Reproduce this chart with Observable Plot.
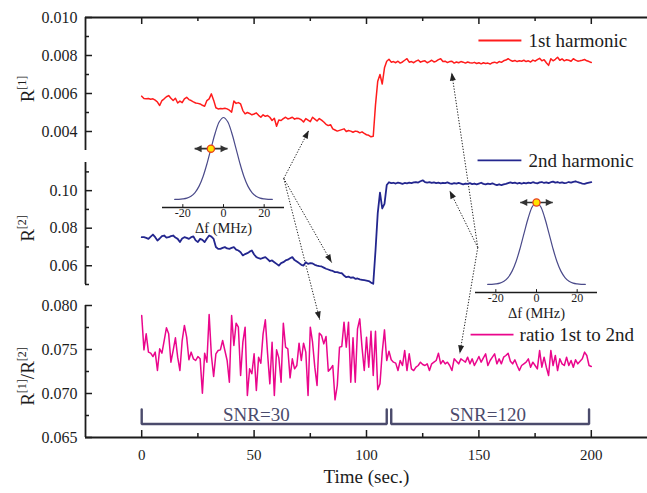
<!DOCTYPE html>
<html><head><meta charset="utf-8">
<script src="https://cdn.jsdelivr.net/npm/d3@7"></script>
<script src="https://cdn.jsdelivr.net/npm/@observablehq/plot@0.6"></script>
<style>
html,body{margin:0;padding:0;background:#fff}
#chart{position:relative;width:647px;height:493px;overflow:hidden;font-family:"Liberation Serif","DejaVu Serif",serif}
#chart svg{position:absolute;background:transparent}
#chart svg text, #chart svg tspan{font-family:"Liberation Serif","DejaVu Serif",serif !important}
</style></head>
<body><div id="chart"></div>
<script>
// ---------------- data (one sample per second, t = 0 .. 200 s) ----------------
const r1 = [ // R[1], 1st harmonic
0.00586,0.00574,0.00572,0.00574,0.00570,0.00572,0.00565,0.00555,0.00537,0.00563,
0.00572,0.00583,0.00589,0.00575,0.00563,0.00575,0.00550,0.00560,0.00552,0.00572,
0.00580,0.00568,0.00563,0.00556,0.00550,0.00548,0.00545,0.00538,0.00533,0.00563,
0.00572,0.00598,0.00565,0.00525,0.00519,0.00521,0.00520,0.00522,0.00519,0.00512,
0.00502,0.00560,0.00548,0.00552,0.00545,0.00510,0.00493,0.00500,0.00495,0.00488,
0.00492,0.00498,0.00485,0.00475,0.00488,0.00480,0.00484,0.00475,0.00458,0.00470,
0.00428,0.00460,0.00458,0.00468,0.00475,0.00466,0.00470,0.00475,0.00465,0.00470,
0.00468,0.00462,0.00450,0.00468,0.00460,0.00452,0.00475,0.00465,0.00455,0.00468,
0.00460,0.00450,0.00438,0.00431,0.00436,0.00414,0.00408,0.00402,0.00406,0.00410,
0.00414,0.00400,0.00405,0.00402,0.00396,0.00402,0.00400,0.00393,0.00398,0.00390,
0.00383,0.00380,0.00372,0.00375,0.00540,0.00665,0.00700,0.00650,0.00735,0.00770,
0.00780,0.00765,0.00768,0.00762,0.00770,0.00760,0.00766,0.00775,0.00783,0.00765,
0.00768,0.00762,0.00770,0.00776,0.00765,0.00770,0.00772,0.00762,0.00768,0.00775,
0.00766,0.00770,0.00778,0.00783,0.00768,0.00770,0.00763,0.00768,0.00770,0.00760,
0.00766,0.00762,0.00768,0.00765,0.00760,0.00766,0.00762,0.00760,0.00764,0.00758,
0.00762,0.00756,0.00762,0.00758,0.00760,0.00755,0.00762,0.00765,0.00760,0.00768,
0.00764,0.00772,0.00776,0.00783,0.00775,0.00770,0.00774,0.00768,0.00772,0.00770,
0.00775,0.00768,0.00772,0.00766,0.00776,0.00770,0.00778,0.00785,0.00772,0.00778,
0.00762,0.00748,0.00783,0.00772,0.00780,0.00791,0.00775,0.00782,0.00772,0.00778,
0.00775,0.00770,0.00783,0.00776,0.00770,0.00772,0.00775,0.00779,0.00772,0.00768,
0.00763];
const r2 = [ // R[2], 2nd harmonic
0.0752,0.0752,0.0748,0.0743,0.0755,0.0766,0.0752,0.0734,0.0745,0.0758,
0.0761,0.0750,0.0752,0.0758,0.0761,0.0750,0.0743,0.0726,0.0745,0.0752,
0.0748,0.0743,0.0752,0.0756,0.0735,0.0726,0.0743,0.0738,0.0726,0.0745,
0.0761,0.0755,0.0743,0.0700,0.0690,0.0690,0.0695,0.0699,0.0692,0.0690,
0.0695,0.0699,0.0686,0.0681,0.0672,0.0655,0.0662,0.0667,0.0675,0.0681,
0.0660,0.0646,0.0640,0.0637,0.0642,0.0646,0.0635,0.0624,0.0628,0.0619,
0.0610,0.0601,0.0614,0.0619,0.0628,0.0632,0.0640,0.0646,0.0630,0.0622,
0.0614,0.0605,0.0601,0.0619,0.0610,0.0614,0.0612,0.0605,0.0601,0.0598,
0.0596,0.0590,0.0584,0.0580,0.0575,0.0572,0.0566,0.0566,0.0562,0.0560,
0.0548,0.0539,0.0542,0.0536,0.0538,0.0530,0.0532,0.0527,0.0525,0.0523,
0.0521,0.0518,0.0510,0.0504,0.0680,0.0880,0.0990,0.0905,0.0930,0.1030,
0.1045,0.1040,0.1042,0.1038,0.1043,0.1040,0.1036,0.1041,0.1039,0.1043,
0.1040,0.1044,0.1046,0.1043,0.1050,0.1055,0.1046,0.1043,0.1045,0.1041,
0.1044,0.1040,0.1043,0.1039,0.1042,0.1040,0.1044,0.1039,0.1036,0.1040,
0.1037,0.1041,0.1038,0.1034,0.1038,0.1036,0.1040,0.1035,0.1038,0.1034,
0.1038,0.1042,0.1036,0.1033,0.1037,0.1035,0.1039,0.1034,0.1030,0.1034,
0.1029,0.1033,0.1036,0.1040,0.1044,0.1040,0.1043,0.1038,0.1041,0.1037,
0.1042,0.1039,0.1043,0.1040,0.1045,0.1041,0.1039,0.1044,0.1046,0.1041,
0.1044,0.1040,0.1045,0.1048,0.1043,0.1046,0.1041,0.1044,0.1040,0.1042,
0.1046,0.1043,0.1047,0.1050,0.1045,0.1042,0.1038,0.1036,0.1040,0.1043,
0.1045];
const ratio = [ // R[1]/R[2]
0.07886,0.07496,0.07678,0.07470,0.07458,0.07420,0.07470,0.07261,0.07508,0.07458,
0.07602,0.07746,0.07678,0.07356,0.07489,0.07633,0.07413,0.07261,0.07602,0.07773,
0.07640,0.07383,0.07470,0.07394,0.07375,0.07420,0.07394,0.07004,0.07458,0.07356,
0.07898,0.07432,0.07193,0.07451,0.07489,0.07496,0.07602,0.07489,0.07375,0.07129,
0.07886,0.07545,0.07799,0.07754,0.07205,0.07583,0.07754,0.06977,0.07280,0.07224,
0.07451,0.07034,0.07413,0.07345,0.07678,0.07837,0.07451,0.07110,0.07583,0.06977,
0.07496,0.07405,0.07129,0.07799,0.07527,0.07508,0.07178,0.07394,0.07280,0.07318,
0.07572,0.07375,0.07572,0.07470,0.06977,0.07754,0.07583,0.07299,0.07091,0.07686,
0.07659,0.07564,0.07648,0.07254,0.07280,0.07318,0.06928,0.07091,0.07527,0.07534,
0.07811,0.07527,0.07811,0.07129,0.07633,0.07129,0.07735,0.07848,0.07527,0.07261,
0.07640,0.07299,0.07708,0.07205,0.07708,0.07042,0.07110,0.07470,0.07723,0.07375,
0.07481,0.07383,0.07356,0.07345,0.07261,0.07375,0.07318,0.07489,0.07261,0.07451,
0.07280,0.07261,0.07299,0.07318,0.07356,0.07330,0.07318,0.07337,0.07261,0.07337,
0.07356,0.07375,0.07458,0.07337,0.07375,0.07337,0.07356,0.07318,0.07261,0.07394,
0.07367,0.07337,0.07394,0.07375,0.07356,0.07413,0.07337,0.07394,0.07318,0.07367,
0.07420,0.07356,0.07405,0.07451,0.07318,0.07375,0.07413,0.07451,0.07337,0.07394,
0.07337,0.07413,0.07432,0.07458,0.07367,0.07337,0.07383,0.07318,0.07261,0.07318,
0.07337,0.07356,0.07394,0.07299,0.07356,0.07318,0.07280,0.07489,0.07299,0.07413,
0.07299,0.07205,0.07489,0.07318,0.07432,0.07261,0.07394,0.07337,0.07318,0.07413,
0.07318,0.07375,0.07299,0.07383,0.07337,0.07367,0.07394,0.07470,0.07432,0.07318,
0.07307];

// tick values / labels
const timeTicks = [0, 50, 100, 150, 200];
const timeMinor = [25, 75, 125, 175];
const r1Ticks = [0.004, 0.006, 0.008, 0.010], r1Minor = [0.005, 0.007, 0.009];
const r2Ticks = [0.06, 0.08, 0.10], r2Minor = [0.05, 0.07, 0.09, 0.11];
const ratioTicks = [0.065, 0.070, 0.075, 0.080], ratioMinor = [0.0675, 0.0725, 0.0775];
const seriesNames = ["1st harmonic", "2nd harmonic", "ratio 1st to 2nd"];
const snrLabels = ["SNR=30", "SNR=120"];
const snrStart = [0, 111], snrEnd = [109, 199];
// inset: resonance line shape
const dfTicks = [-20, 0, 20];
const gaussDf = [-24,-22,-20,-18,-16,-14,-12,-10,-8,-6,-4,-2,0,2,4,6,8,10,12,14,16,18,20,22,24];
const gaussLevel = [0.001,0.002,0.007,0.017,0.040,0.085,0.163,0.284,0.447,0.636,0.817,0.951,1,0.951,0.817,0.636,0.447,0.284,0.163,0.085,0.040,0.017,0.007,0.002,0.001];

// ---------------- layout / style ----------------
const W = 647, H = 493, ML = 85, MR = 0, MT = 17, MB = 56;
const XD = [-25, 225];
const kx = (W - ML - MR) / (XD[1] - XD[0]); // px per second
const ink = "#1c1c1c", cRed = "#ff1c1c", cBlue = "#23268e", cPink = "#ea068c", cSnr = "#4b4b6c", cGauss = "#4a4a8a";
const FONT = "'Liberation Serif', 'DejaVu Serif', serif";
// panels: value domain and vertical band (in px below the top frame)
const P = [
  {lo: 0.003, hi: 0.010, top: 0, bottom: 133},
  {lo: 0.05, hi: 0.115, top: 145, bottom: 267},
  {lo: 0.065, hi: 0.080, top: 288, bottom: 420}
];
const ymap = (p, v) => p.top + (p.hi - v) / (p.hi - p.lo) * (p.bottom - p.top);

const yAxes = [
  {p: P[0], major: r1Ticks, minor: r1Minor, fmt: d3.format(".3f"), label: "R^[1]"},
  {p: P[1], major: r2Ticks, minor: r2Minor, fmt: d3.format(".2f"), label: "R^[2]"},
  {p: P[2], major: ratioTicks, minor: ratioMinor, fmt: d3.format(".3f"), label: "R^[1]/R^[2]"}
];
const majorY = yAxes.flatMap(a => a.major.map(v => ({y: ymap(a.p, v), label: a.fmt(v)})));
const minorY = yAxes.flatMap(a => a.minor.map(v => ({y: ymap(a.p, v)})));

const series = [
  {values: r1, p: P[0], color: cRed, w: 1.5},
  {values: r2, p: P[1], color: cBlue, w: 1.8},
  {values: ratio, p: P[2], color: cPink, w: 1.5}
];
// legend placement (time, panel value)
const legendAt = [
  {p: P[0], v: 0.00879, t1: 149.8, t2: 168.9, tt: 172.1},
  {p: P[1], v: 0.1161, t1: 149.4, t2: 168.9, tt: 172.1},
  {p: P[2], v: 0.0767, t1: 146.3, t2: 165.4, tt: 168.1}
];
const legend = legendAt.map((d, k) => ({...d, y: ymap(d.p, d.v), name: seriesNames[k], color: series[k].color}));

// SNR brackets in ratio-panel units
const brTop = 0.06818, brBottom = 0.06653, snrTextV = 0.06761, snrTextT = [51, 154];
const bracketPts = snrStart.flatMap((s, k) => [
  {k, t: s, v: brTop}, {k, t: s, v: brBottom}, {k, t: snrEnd[k], v: brBottom}, {k, t: snrEnd[k], v: brTop}
]);

// annotation arrows: from (time, panel, value) to (time, panel, value)
const notes = [
  {a: [63.2, 1, 0.1065], b: [74.3, 0, 0.00405]},
  {a: [63.2, 1, 0.1065], b: [84.5, 1, 0.0617]},
  {a: [63.2, 1, 0.1065], b: [79.2, 2, 0.0784]},
  {a: [149.5, 1, 0.0697], b: [137.9, 0, 0.0071]},
  {a: [149.5, 1, 0.0697], b: [137.0, 1, 0.1000]},
  {a: [149.5, 1, 0.0697], b: [141.5, 2, 0.07455]}
].map(n => ({x1: n.a[0], y1: ymap(P[n.a[1]], n.a[2]), x2: n.b[0], y2: ymap(P[n.b[1]], n.b[2])}));

function headMarker(len, wid) {
  return function (color, context) {
    const doc = (context && context.document) || document;
    const ns = "http://www.w3.org/2000/svg";
    const m = doc.createElementNS(ns, "marker");
    m.setAttribute("viewBox", `${-len} ${-wid / 2} ${len} ${wid}`);
    m.setAttribute("markerWidth", len);
    m.setAttribute("markerHeight", wid);
    m.setAttribute("markerUnits", "userSpaceOnUse");
    m.setAttribute("orient", "auto-start-reverse");
    m.setAttribute("refX", 0);
    m.setAttribute("refY", 0);
    m.setAttribute("overflow", "visible");
    const p = doc.createElementNS(ns, "path");
    p.setAttribute("d", `M${-len},${-wid / 2}L0,0L${-len},${wid / 2}Z`);
    p.setAttribute("fill", color);
    p.setAttribute("stroke", "none");
    m.appendChild(p);
    return m;
  };
}

function buildMain(mk) {
  return Plot.plot({
    width: W, height: H, marginLeft: ML, marginRight: MR, marginTop: MT, marginBottom: MB,
    x: {domain: XD, axis: null},
    y: {domain: [0, 420], reverse: true, axis: null},
    style: {background: "transparent", fontFamily: FONT, overflow: "visible", color: ink},
    marks: [
      // frame / axes
      Plot.ruleY([0, 420], {x1: XD[0], x2: XD[1], stroke: ink, strokeWidth: 1.8}),
      Plot.ruleX(P, {x: XD[0], y1: "top", y2: "bottom", stroke: ink, strokeWidth: 1.8}),
      Plot.ruleY(majorY, {y: "y", x1: XD[0], x2: XD[0] + 7 / kx, stroke: ink, strokeWidth: 1.5}),
      Plot.ruleY(minorY, {y: "y", x1: XD[0], x2: XD[0] + 4 / kx, stroke: ink, strokeWidth: 1.5}),
      Plot.text(majorY, {x: XD[0], y: "y", text: "label", textAnchor: "end", dx: -8, fontSize: 16, fill: ink, fontFamily: FONT}),
      Plot.ruleX(timeTicks, {y1: 413, y2: 420, stroke: ink, strokeWidth: 1.5}),
      Plot.ruleX(timeMinor, {y1: 416, y2: 420, stroke: ink, strokeWidth: 1.5}),
      Plot.ruleX(timeTicks, {y1: 0, y2: 7, stroke: ink, strokeWidth: 1.5}),
      Plot.ruleX(timeMinor, {y1: 0, y2: 4, stroke: ink, strokeWidth: 1.5}),
      Plot.text(timeTicks, {x: d => d, y: 420, dy: 18, text: d => String(d), fontSize: 15, fill: ink, fontFamily: FONT}),
      Plot.text(["Time (sec.)"], {frameAnchor: "bottom", dy: 45, fontSize: 19, fill: ink, fontFamily: FONT}),
      Plot.text(yAxes, {x: XD[0], y: a => (a.p.top + a.p.bottom) / 2 + 5, text: "label", rotate: -90, dx: -58, fontSize: 19, fill: ink, fontFamily: FONT}),
      // SNR brackets
      Plot.line(bracketPts, {x: "t", y: d => ymap(P[2], d.v), z: "k", stroke: cSnr, strokeWidth: 2.4, strokeLinejoin: "miter"}),
      Plot.text(snrLabels, {x: (d, i) => snrTextT[i], y: ymap(P[2], snrTextV), text: d => d, fontSize: 19, fill: cSnr, fontFamily: FONT}),
      // annotation arrows
      Plot.link(notes, {x1: "x1", y1: "y1", x2: "x2", y2: "y2", stroke: "#222", strokeWidth: 1, strokeDasharray: "1.3,1.6", markerEnd: mk(8, 6)}),
      // series
      ...series.map(s => Plot.line(s.values, {x: (d, i) => i, y: d => ymap(s.p, d), stroke: s.color, strokeWidth: s.w, strokeLinejoin: "round"})),
      // legend
      Plot.link(legend, {x1: "t1", x2: "t2", y1: "y", y2: "y", stroke: "color", strokeWidth: 1.8}),
      Plot.text(legend, {x: "tt", y: "y", text: "name", textAnchor: "start", fontSize: 19, fill: ink, fontFamily: FONT})
    ]
  });
}

function buildInset(dot, arrow, mk) {
  const yLo = -0.0976;
  const gauss = gaussDf.map((d, i) => ({df: d, g: gaussLevel[i]}));
  return Plot.plot({
    width: 124, height: 133, marginLeft: 1, marginRight: 1, marginTop: 7, marginBottom: 36,
    x: {domain: [-30, 30], axis: null},
    y: {domain: [yLo, 1], axis: null},
    style: {background: "transparent", fontFamily: FONT, overflow: "visible", color: ink},
    marks: [
      Plot.ruleY([yLo], {stroke: ink, strokeWidth: 1.3}),
      Plot.ruleX(dfTicks, {y1: yLo, y2: yLo + 0.035, stroke: ink, strokeWidth: 1}),
      Plot.text(dfTicks, {x: d => d, y: yLo, dy: 6, text: d => String(d), fontSize: 12, fill: ink, fontFamily: FONT}),
      Plot.text(["Δf (MHz)"], {frameAnchor: "bottom", dy: 25, fontSize: 14.5, fill: ink, fontFamily: FONT}),
      Plot.line(gauss, {x: "df", y: "g", stroke: cGauss, strokeWidth: 1.2, curve: "catmull-rom"}),
      Plot.link([arrow], {x1: "x1", x2: "x2", y1: "y", y2: "y", stroke: "#333", strokeWidth: 1.6, markerStart: mk(7, 7), markerEnd: mk(7, 7)}),
      Plot.dot([dot], {x: "df", y: "g", r: 3.6, fill: "#ffe400", stroke: "#e8401c", strokeWidth: 1.3})
    ]
  });
}

function supText(svg) {
  d3.select(svg).selectAll("text").each(function () {
    const s = this.textContent;
    if (!s.includes("^")) return;
    const parts = s.split(/\^(\[[^\]]*\])/);
    const el = d3.select(this);
    el.text(null);
    parts.forEach((p, k) => {
      if (!p) return;
      const ts = el.append("tspan").text(p);
      if (k % 2 === 1) ts.attr("font-size", 12).attr("dy", -8);
      else if (k > 0) ts.attr("dy", 8);
    });
  });
}

const root = document.getElementById("chart");
let mk = headMarker;
let main;
try { main = buildMain(mk); } catch (e) { console.error(e); mk = () => "arrow"; main = buildMain(mk); }
supText(main);
main.style.left = "0px"; main.style.top = "0px";
root.appendChild(main);

const insetSpecs = [
  {left: 161, top: 110, dot: {df: -6.2, g: 0.62}, arrow: {x1: -14.2, x2: 2, y: 0.62}},
  {left: 474, top: 195, dot: {df: 0, g: 1}, arrow: {x1: -8, x2: 8, y: 1}}
];
for (const s of insetSpecs) {
  let svg;
  try { svg = buildInset(s.dot, s.arrow, mk); } catch (e) { console.error(e); svg = buildInset(s.dot, s.arrow, () => "arrow"); }
  svg.style.left = s.left + "px"; svg.style.top = s.top + "px";
  root.appendChild(svg);
}
</script>
</body></html>
